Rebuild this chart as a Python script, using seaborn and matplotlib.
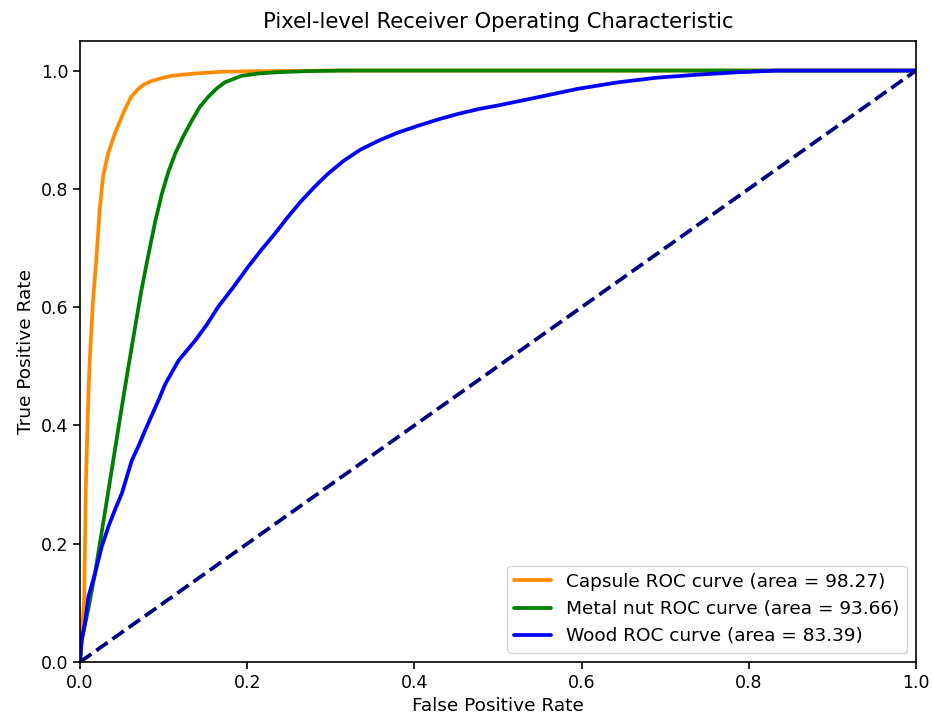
import matplotlib
matplotlib.use("Agg")
import matplotlib.pyplot as plt
import seaborn as sns
import pandas as pd

capsule_fpr = [0.0, 0.002, 0.005, 0.007, 0.010, 0.012, 0.0155, 0.0195, 0.0235, 0.0275, 0.0335, 0.0415, 0.053, 0.061, 0.069, 0.076, 0.085, 0.097, 0.109, 0.137, 0.170, 0.213, 0.300, 0.500, 1.0]
capsule_tpr = [0.0, 0.05, 0.105, 0.30, 0.45, 0.52, 0.61, 0.679, 0.764, 0.82, 0.859, 0.893, 0.932, 0.955, 0.968, 0.976, 0.982, 0.987, 0.991, 0.995, 0.998, 0.999, 1.0, 1.0, 1.0]

metal_fpr = [0.0, 0.002, 0.010, 0.018, 0.034, 0.050, 0.058, 0.064, 0.073, 0.082, 0.090, 0.098, 0.106, 0.114, 0.124, 0.134, 0.143, 0.153, 0.163, 0.173, 0.193, 0.213, 0.233, 0.270, 0.313, 0.500, 1.0]
metal_tpr = [0.0, 0.037, 0.09, 0.15, 0.29, 0.431, 0.50, 0.55, 0.625, 0.69, 0.745, 0.792, 0.83, 0.86, 0.89, 0.916, 0.938, 0.955, 0.969, 0.98, 0.991, 0.995, 0.997, 0.999, 1.0, 1.0, 1.0]

wood_fpr = [0.0, 0.002, 0.006, 0.010, 0.018, 0.026, 0.034, 0.042, 0.050, 0.062, 0.070, 0.078, 0.094, 0.102, 0.110, 0.118, 0.128, 0.138, 0.152, 0.165, 0.183, 0.201, 0.217, 0.233, 0.249, 0.265, 0.281, 0.297, 0.315, 0.335, 0.358, 0.380, 0.405, 0.430, 0.453, 0.477, 0.500, 0.548, 0.595, 0.643, 0.690, 0.738, 0.785, 0.833, 0.900, 1.0]
wood_tpr = [0.0, 0.037, 0.066, 0.11, 0.15, 0.195, 0.229, 0.258, 0.285, 0.341, 0.365, 0.392, 0.443, 0.470, 0.49, 0.51, 0.527, 0.544, 0.571, 0.60, 0.633, 0.668, 0.697, 0.724, 0.753, 0.78, 0.804, 0.826, 0.847, 0.866, 0.882, 0.895, 0.907, 0.918, 0.927, 0.935, 0.941, 0.955, 0.969, 0.98, 0.988, 0.993, 0.997, 1.0, 1.0, 1.0]

labels = ["Capsule ROC curve (area = 98.27)",
          "Metal nut ROC curve (area = 93.66)",
          "Wood ROC curve (area = 83.39)"]
colors = ["darkorange", "green", "blue"]

rows = []
for lab, fx, ty in zip(labels, [capsule_fpr, metal_fpr, wood_fpr], [capsule_tpr, metal_tpr, wood_tpr]):
    for a, b in zip(fx, ty):
        rows.append({"fpr": a, "tpr": b, "curve": lab})
df = pd.DataFrame(rows)

sns.set_style("ticks", {"axes.edgecolor": "black", "text.color": "black",
                        "xtick.color": "black", "ytick.color": "black",
                        "axes.labelcolor": "black"})
plt.rcParams['font.family'] = ['DejaVu Sans']

fig = plt.figure(figsize=(9.34, 7.24), dpi=100)
ax = fig.add_axes([80/934, 1-662/724, 836/934, (662-41)/724])

sns.lineplot(data=df, x="fpr", y="tpr", hue="curve", palette=dict(zip(labels, colors)),
             sort=False, estimator=None, linewidth=2.7, ax=ax)
ax.plot([0, 1], [0, 1], color="navy", linewidth=2.7, linestyle="--")

ax.set_xlim(0.0, 1.0)
ax.set_ylim(0.0, 1.05)
ax.set_xlabel("False Positive Rate", fontsize=13.3)
ax.set_ylabel("True Positive Rate", fontsize=13.3)
ax.set_title("Pixel-level Receiver Operating Characteristic", fontsize=15.2, pad=9)
ax.tick_params(labelsize=12.5, colors="black", width=1.2, length=5)
for s in ax.spines.values():
    s.set_visible(True)
    s.set_linewidth(1.2)
    s.set_color("black")
ax.legend(loc="lower right", fontsize=13.3)

fig.savefig("out.png", dpi=100)
